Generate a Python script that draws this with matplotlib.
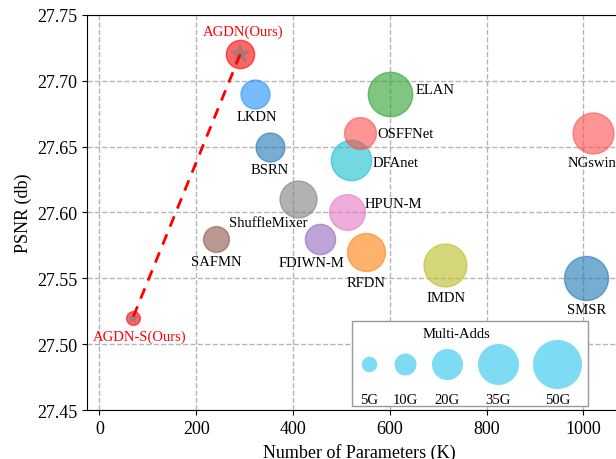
import numpy as np
import matplotlib.pyplot as plt

plt.rcParams['font.family'] = 'serif'
plt.rcParams['font.serif'] = ['Liberation Serif', 'DejaVu Serif']

# model data: params (K), PSNR (dB), Multi-Adds (G)
models = ['AGDN(Ours)', 'AGDN-S(Ours)', 'LKDN', 'BSRN', 'ShuffleMixer', 'SAFMN',
          'FDIWN-M', 'HPUN-M', 'RFDN', 'DFAnet', 'OSFFNet', 'ELAN', 'IMDN',
          'NGswin', 'SMSR']
params = [291, 69, 322, 352, 411, 240, 455, 511, 550, 519, 538, 601, 715, 1019, 1006]
psnr = [27.72, 27.52, 27.69, 27.65, 27.61, 27.58, 27.58, 27.60, 27.57, 27.64,
        27.66, 27.69, 27.56, 27.66, 27.55]
madds = [16.6, 3.9, 17.3, 17.3, 28.3, 13.8, 19.0, 26.5, 29.9, 33.8, 21.0, 40.9,
         38.3, 34.8, 40.2]
colors = ['red', 'red', 'dodgerblue', 'tab:blue', 'tab:gray', 'tab:brown',
          'tab:purple', 'tab:pink', 'tab:orange', 'tab:cyan', '#ff4d4d',
          'tab:green', 'tab:olive', '#ff4d4d', 'tab:blue']

# label offsets in pixels (dx, dy) and horizontal alignment
offsets = [(3, 23, 'center'), (7, -18, 'center'), (2, -23, 'center'),
           (0, -23, 'center'), (-30, -23, 'center'), (1, -23, 'center'),
           (-8, -24, 'center'), (18, 9, 'left'), (0, -30, 'center'),
           (22, -3, 'left'), (18, 0, 'left'), (25, 4, 'left'),
           (1, -32, 'center'), (-1, -29, 'center'), (0, -31, 'center')]

legend_sizes = [5, 10, 20, 35, 50]
legend_labels = ['5G', '10G', '20G', '35G', '50G']

scale = 25  # marker area (pt^2) per G

fig = plt.figure(figsize=(6.16, 4.6), dpi=100)
ax = fig.add_axes([0.1417, 0.1059, 0.884, 0.86])

ax.grid(True, linestyle='--', color='#b5b5b5', linewidth=1)
ax.set_axisbelow(True)

for i in range(len(models)):
    ax.scatter(params[i], psnr[i], s=madds[i] * scale, color=colors[i],
               alpha=0.6, zorder=3)
    dx, dy, ha = offsets[i]
    tc = 'red' if 'Ours' in models[i] else 'black'
    ax.annotate(models[i], (params[i], psnr[i]), xytext=(dx, dy),
                textcoords='offset pixels', ha=ha, va='center',
                fontsize=10.5, color=tc, zorder=5)

# stars for our models
ax.scatter(params[:2], psnr[:2], marker='*', s=[200, 45], color='gray',
           alpha=0.6, zorder=4)
ax.plot(params[:2], psnr[:2], linestyle='--', color='red', linewidth=2,
        dashes=(4, 3), zorder=4)

# multi-adds size legend
bx = [0.5168, 0.5835, 0.6612, 0.7543, 0.8632]
ax.add_patch(plt.Rectangle((0.4867, 0.0101), 0.4333, 0.2164,
                           transform=ax.transAxes, fill=True, facecolor='white',
                           edgecolor='#999999', linewidth=1, zorder=6))
ax.text(0.6784, 0.193, 'Multi-Adds', transform=ax.transAxes, ha='center',
        va='center', fontsize=10.5, zorder=7)
for j in range(len(legend_sizes)):
    ax.scatter(bx[j], 0.1163, s=legend_sizes[j] * scale, color='#7ddcf3',
               transform=ax.transAxes, zorder=7, linewidths=0)
    ax.text(bx[j], 0.028, legend_labels[j], transform=ax.transAxes,
            ha='center', va='center', fontsize=10.5, zorder=7)

ax.set_xlim(-25, 1100)
ax.set_ylim(27.45, 27.75)
ax.set_xticks([0, 200, 400, 600, 800, 1000])
ax.set_yticks(np.arange(27.45, 27.751, 0.05))
ax.yaxis.set_major_formatter(plt.FormatStrFormatter('%.2f'))
ax.tick_params(labelsize=13)
ax.set_xlabel('Number of Parameters (K)', fontsize=13)
ax.set_ylabel('PSNR (db)', fontsize=13)
ax.spines['right'].set_visible(False)

fig.savefig('out.png', dpi=100)
